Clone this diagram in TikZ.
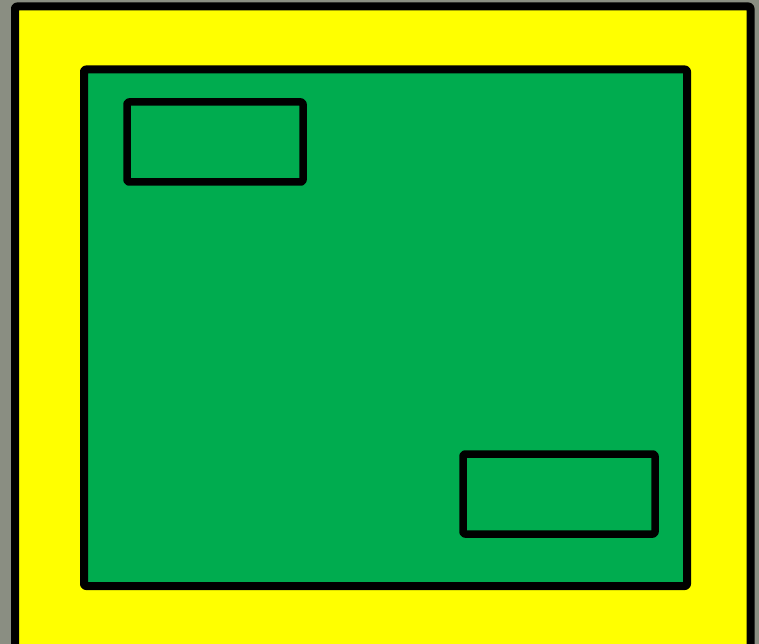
\documentclass[tikz,border=0pt]{standalone}
\definecolor{bggrey}{RGB}{138,142,130}
\definecolor{boxyellow}{RGB}{255,255,0}
\definecolor{boxgreen}{RGB}{0,172,79}
\begin{document}
\begin{tikzpicture}[x=1pt,y=-1pt,
  frame/.style={draw=black,line width=8pt,line join=round,rounded corners=2pt},
  smallbox/.style={draw=black,line width=7.5pt,line join=round,rounded corners=2pt}]
\useasboundingbox (0,0) rectangle (759,644);
\fill[bggrey] (0,0) rectangle (759,644);
\draw[frame,fill=boxyellow] (15,6.5) rectangle (750.5,648);
\draw[frame,fill=boxgreen] (84,69.5) rectangle (687,586);
\draw[smallbox] (127,102) rectangle (303,182);
\draw[smallbox] (463,454) rectangle (655,534);
\end{tikzpicture}
\end{document}
